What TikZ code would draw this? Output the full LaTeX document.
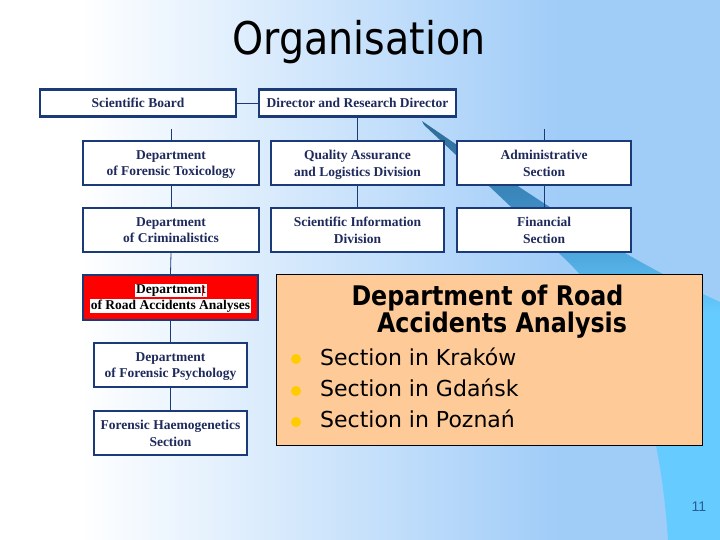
\documentclass[tikz,border=0pt]{standalone}
\usepackage{fontspec}
\usepackage{graphicx}
\setmainfont{Liberation Serif}
\newfontfamily\comic{DejaVu Sans}
\newfontfamily\arialf{Liberation Sans}
\definecolor{bgblue}{HTML}{A0CCF8}
\definecolor{navy}{HTML}{1B3A78}
\definecolor{txtnavy}{HTML}{1F2A5C}
\definecolor{peach}{HTML}{FDCA98}
\definecolor{bullety}{HTML}{FFCC00}
\definecolor{swdark}{HTML}{2E6C98}
\definecolor{swmid}{HTML}{3E8EC6}
\definecolor{swcyan}{HTML}{66CCFF}
\definecolor{pgnum}{HTML}{2A5C95}
\pgfdeclareverticalshading{swoosh}{100bp}{color(0bp)=(swcyan); color(52bp)=(swcyan); color(64bp)=(swmid); color(75bp)=(swdark); color(100bp)=(swdark)}
\tikzset{
  orgbox/.style={draw=navy, line width=2.2pt, fill=white, inner sep=0pt, align=center,
    text=txtnavy, font=\bfseries\fontsize{13.5}{16.7}\selectfont, text depth=0pt},
  conn/.style={draw=navy, line width=0.8pt},
  hilite/.style={fill=white, inner sep=0.8pt, text=black, font=\bfseries\fontsize{13.5}{15}\selectfont},
  bulletdot/.style={circle, fill=bullety, inner sep=0pt, minimum size=10pt},
  bullettext/.style={anchor=base west, inner sep=0pt, font=\comic\fontsize{22}{26}\selectfont}
}
\begin{document}
\begin{tikzpicture}[x=1pt,y=-1pt]
\useasboundingbox (0,0) rectangle (720,540);
% background
\fill[white] (0,0) rectangle (81,540);
\shade[left color=white,right color=bgblue] (80,0) rectangle (561,540);
\fill[bgblue] (560,0) rectangle (720,540);
% swoosh
\shade[shading=swoosh] (422,121) .. controls (530,195) and (620,257) .. (720,302)
  -- (720,540) -- (668,540) .. controls (660,420) and (630,320) .. (563,257)
  .. controls (520,215) and (470,168) .. (424,125) -- cycle;
% title
\node (title) at (359,42) {\scalebox{0.88}[1]{\comic\fontsize{45}{50}\selectfont Organisation}};
% boxes
\node[orgbox, minimum width=196pt, minimum height=27pt] (sb) at (138,103) {Scientific Board};
\node[orgbox, minimum width=197pt, minimum height=27pt] (drd) at (357.5,103) {Director and Research Director};
\node[orgbox, minimum width=176pt, minimum height=44pt] (tox) at (171,163) {Department\\of Forensic Toxicology};
\node[orgbox, minimum width=173pt, minimum height=44pt] (qa) at (357.5,163) {Quality Assurance\\and Logistics Division};
\node[orgbox, minimum width=174pt, minimum height=44pt] (adm) at (544,163) {Administrative\\Section};
\node[orgbox, minimum width=176pt, minimum height=44pt] (crim) at (171,230) {Department\\of Criminalistics};
\node[orgbox, minimum width=173pt, minimum height=44pt] (sid) at (357.5,230) {Scientific Information\\Division};
\node[orgbox, minimum width=174pt, minimum height=44pt] (fin) at (544,230) {Financial\\Section};
\node[orgbox, fill=red, minimum width=175pt, minimum height=45pt] (road) at (170.5,297.5) {};
\node[hilite] (roadA) at (171,290.5) {Department};
\node[hilite] (roadB) at (170.5,306) {of Road Accidents Analyses};
\draw[red, line width=0.6pt] (202,285) -- (202,296);
\node[orgbox, minimum width=153pt, minimum height=44pt] (psy) at (170.5,365) {Department\\of Forensic Psychology};
\node[orgbox, minimum width=153pt, minimum height=44pt] (hae) at (170.5,433) {Forensic Haemogenetics\\Section};
% stub ends
\coordinate (stubL) at (171,129);
\coordinate (stubR) at (544,129);
% connectors
\draw[conn] (sb.east) -- (drd.west);
\draw[conn] (stubL) -- (tox.north);
\draw[conn] (drd.south) -- (qa.north);
\draw[conn] (stubR) -- (adm.north);
\draw[conn] (tox.south) -- (crim.north);
\draw[conn] (qa.south) -- (sid.north);
\draw[conn] (adm.south) -- (fin.north);
\draw[conn] (crim.south) -- (road.north);
\draw[conn] (road.south) -- (psy.north);
\draw[conn] (psy.south) -- (hae.north);
% orange box
\node[draw=black, line width=0.8pt, fill=peach, minimum width=426pt, minimum height=171pt, inner sep=0pt] (orange) at (489,359.5) {};
\node[anchor=base, inner sep=0pt] (ot1) at (487.5,305) {\scalebox{0.88}[1]{\comic\bfseries\fontsize{27}{30}\selectfont Department of Road}};
\node[anchor=base, inner sep=0pt] (ot2) at (502,332) {\scalebox{0.88}[1]{\comic\bfseries\fontsize{27}{30}\selectfont Accidents Analysis}};
\node[bulletdot] (b1) at (296,359) {};
\node[bulletdot] (b2) at (296,391) {};
\node[bulletdot] (b3) at (296,422) {};
\node[bullettext] (t1) at (320,365) {Section in Kraków};
\node[bullettext] (t2) at (320,396) {Section in Gdańsk};
\node[bullettext] (t3) at (320,427) {Section in Poznań};
% page number
\node[text=pgnum, font=\arialf\fontsize{14}{16}\selectfont] (pg) at (699,507) {11};
\end{tikzpicture}
\end{document}
